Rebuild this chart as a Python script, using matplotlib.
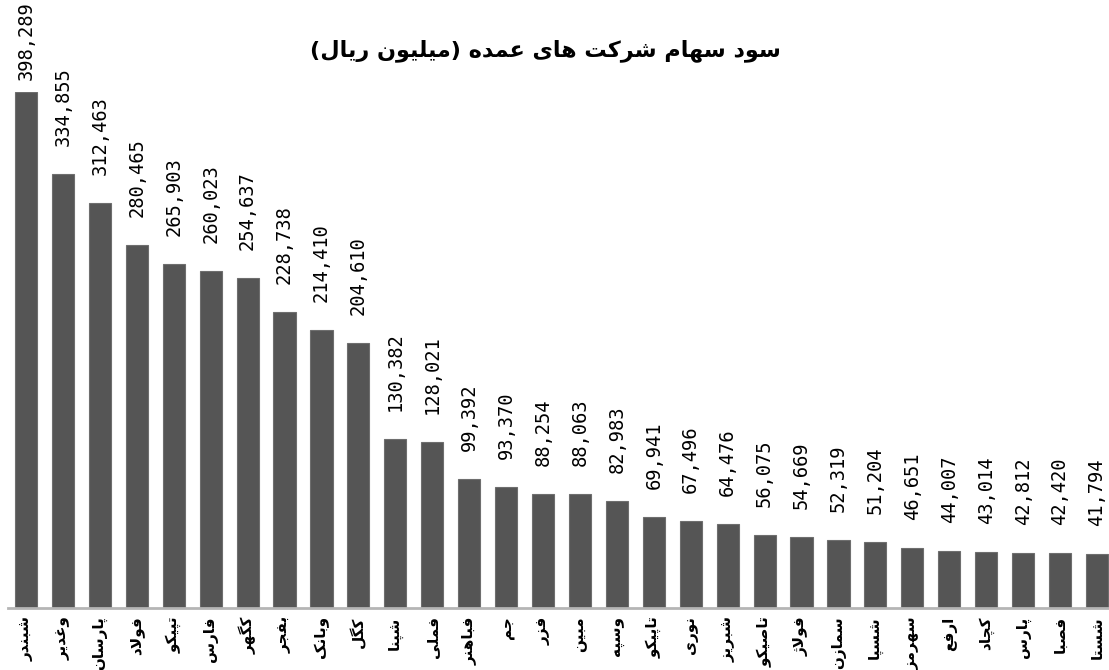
import matplotlib
matplotlib.use("Agg")
import matplotlib.pyplot as plt

# data (million rials)
companies = ['شبندر', 'وغدیر', 'پارسان', 'فولاد', 'تپیکو', 'فارس', 'کگهر', 'بفجر',
             'وبانک', 'کگل', 'شپنا', 'فملی', 'فباهنر', 'جم', 'فزر', 'مبین', 'وسپه',
             'تاپیکو', 'نوری', 'شبریز', 'تاصیکو', 'فولاژ', 'سمازن', 'شسپا', 'سهرمز',
             'ارفع', 'کچاد', 'پارس', 'فصبا', 'شستا']
profit = [398289, 334855, 312463, 280465, 265903, 260023, 254637, 228738,
          214410, 204610, 130382, 128021, 99392, 93370, 88254, 88063, 82983,
          69941, 67496, 64476, 56075, 54669, 52319, 51204, 46651,
          44007, 43014, 42812, 42420, 41794]
title = 'سود سهام شرکت های عمده (میلیون ریال)'


# minimal arabic/persian shaping (matplotlib has no bidi / joining)
# iso, fin, ini, med
FORMS = {
    'ا': ('\uFE8D', '\uFE8E', None, None),
    'ب': ('\uFE8F', '\uFE90', '\uFE91', '\uFE92'),
    'پ': ('\uFB56', '\uFB57', '\uFB58', '\uFB59'),
    'ت': ('\uFE95', '\uFE96', '\uFE97', '\uFE98'),
    'ج': ('\uFE9D', '\uFE9E', '\uFE9F', '\uFEA0'),
    'چ': ('\uFB7A', '\uFB7B', '\uFB7C', '\uFB7D'),
    'د': ('\uFEA9', '\uFEAA', None, None),
    'ر': ('\uFEAD', '\uFEAE', None, None),
    'ز': ('\uFEAF', '\uFEB0', None, None),
    'ژ': ('\uFB8A', '\uFB8B', None, None),
    'س': ('\uFEB1', '\uFEB2', '\uFEB3', '\uFEB4'),
    'ش': ('\uFEB5', '\uFEB6', '\uFEB7', '\uFEB8'),
    'ص': ('\uFEB9', '\uFEBA', '\uFEBB', '\uFEBC'),
    'ع': ('\uFEC9', '\uFECA', '\uFECB', '\uFECC'),
    'غ': ('\uFECD', '\uFECE', '\uFECF', '\uFED0'),
    'ف': ('\uFED1', '\uFED2', '\uFED3', '\uFED4'),
    'ک': ('\uFB8E', '\uFB8F', '\uFB90', '\uFB91'),
    'گ': ('\uFB92', '\uFB93', '\uFB94', '\uFB95'),
    'ل': ('\uFEDD', '\uFEDE', '\uFEDF', '\uFEE0'),
    'م': ('\uFEE1', '\uFEE2', '\uFEE3', '\uFEE4'),
    'ن': ('\uFEE5', '\uFEE6', '\uFEE7', '\uFEE8'),
    'ه': ('\uFEE9', '\uFEEA', '\uFEEB', '\uFEEC'),
    'و': ('\uFEED', '\uFEEE', None, None),
    'ی': ('\uFBFC', '\uFBFD', '\uFBFE', '\uFBFF'),
    '\uFEFB': ('\uFEFB', '\uFEFC', None, None),  # lam-alef
}
MIRROR = {'(': ')', ')': '('}


def shape(s):
    s = s.replace('لا', '\uFEFB')
    out = []
    for j, c in enumerate(s):
        if c not in FORMS:
            out.append(c)
            continue
        prev = s[j - 1] if j > 0 else None
        nxt = s[j + 1] if j + 1 < len(s) else None
        p = prev in FORMS and FORMS[prev][2] is not None
        n = FORMS[c][2] is not None and nxt in FORMS
        iso, fin, ini, med = FORMS[c]
        if p and n:
            out.append(med)
        elif p:
            out.append(fin)
        elif n:
            out.append(ini)
        else:
            out.append(iso)
    return ''.join(MIRROR.get(c, c) for c in reversed(out))


fig = plt.figure(figsize=(11.09, 6.70), dpi=100)
ax = fig.add_axes([0.0068, 0.0925, 0.9990, 0.7702])

x = list(range(len(companies)))
ax.bar(x, profit, width=0.6, color='#555555', edgecolor='#6e6e6e', linewidth=0.8)
ax.set_xlim(-0.5, len(companies) - 0.5)
ax.set_ylim(0, max(profit))

for spine in ['top', 'right', 'left']:
    ax.spines[spine].set_visible(False)
ax.spines['bottom'].set_color('#b5b5b5')
ax.spines['bottom'].set_linewidth(2)
ax.set_yticks([])
ax.set_xticks(x)
ax.set_xticklabels([shape(c) for c in companies], rotation=90,
                   fontsize=11, fontweight='bold', family='DejaVu Sans')
ax.tick_params(axis='x', length=0, pad=6)

# value labels
for i, v in enumerate(profit):
    txt = f'{v:,}'
    if i == 0:
        # no room above the tallest bar, pinned to the top of the figure
        ax.annotate(txt, (i, 1.0), xycoords=('data', 'figure fraction'),
                    xytext=(0, -1), textcoords='offset pixels',
                    rotation=90, ha='center', va='top',
                    fontsize=13.5, family='DejaVu Sans Mono', annotation_clip=False)
    else:
        ax.annotate(txt, (i, v), xytext=(0, 28), textcoords='offset pixels',
                    rotation=90, ha='center', va='bottom',
                    fontsize=13.5, family='DejaVu Sans Mono', annotation_clip=False)

fig.text(0.492, 0.925, shape(title), ha='center', va='center',
         fontsize=16, fontweight='bold', family='DejaVu Sans')

fig.savefig('out.png', dpi=100)
